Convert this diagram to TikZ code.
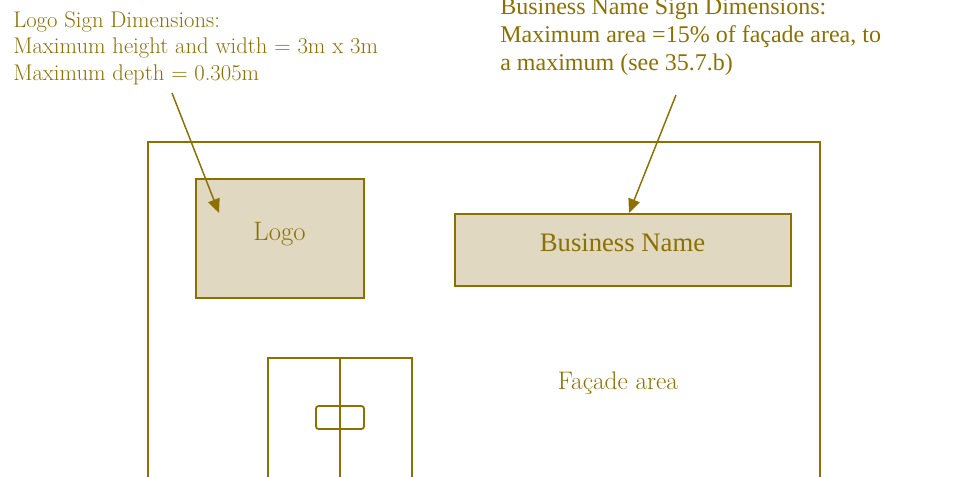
\documentclass[tikz,border=0pt]{standalone}
\usepackage{fontspec}
\newfontfamily\timesf{Liberation Serif}
\usetikzlibrary{arrows.meta}
\definecolor{olive}{RGB}{140,112,0}
\definecolor{signfill}{RGB}{224,216,192}
\tikzset{
  box/.style={draw=olive, line width=1.4pt},
  sign/.style={box, fill=signfill},
  pointer/.style={draw=olive, line width=1.1pt, -{Triangle[length=10.5pt,width=9pt]}},
  lbl/.style={text=olive, inner sep=0pt},
}
\begin{document}
\begin{tikzpicture}[x=0.75pt,y=-0.75pt]
\useasboundingbox (0,0) rectangle (954,477);
\clip (0,0) rectangle (954,477);
% facade
\draw[box] (148,142) rectangle (820,520);
% signs
\draw[sign] (196,179) rectangle (364,298);
\node[lbl, anchor=base, font=\fontsize{20}{24}\selectfont] (logo) at (279.5,241) {Logo};
\draw[sign] (455,214) rectangle (791,286);
\node[lbl, anchor=base, font=\timesf\fontsize{20}{24}\selectfont] (bname) at (622.5,252) {Business Name};
% facade label
\node[lbl, anchor=base, font=\fontsize{19}{22}\selectfont] (facade) at (618,390) {Façade area};
% door
\draw[box] (268,520) -- (268,358) -- (412,358) -- (412,520);
\draw[box] (340,358) -- (340,520);
\draw[box, rounded corners=2pt] (316,406) rectangle (364,429);
% descriptions
\node[lbl, anchor=north west, align=left, font=\fontsize{17}{19.9}\selectfont] (logotext) at (13,11)
  {Logo Sign Dimensions:\\Maximum height and width = 3m x 3m\\Maximum depth = 0.305m};
\node[lbl, anchor=north west, align=left, font=\timesf\fontsize{18}{21}\selectfont] (bntext) at (500,-1.5)
  {Business Name Sign Dimensions:\\Maximum area =15\% of façade area, to\\a maximum (see 35.7.b)};
% pointers
\coordinate (p1s) at (172,93);
\coordinate (p1e) at (219,213);
\coordinate (p2s) at (676,95);
\coordinate (p2e) at (629,213);
\draw[pointer] (p1s) -- (p1e);
\draw[pointer] (p2s) -- (p2e);
\end{tikzpicture}
\end{document}
